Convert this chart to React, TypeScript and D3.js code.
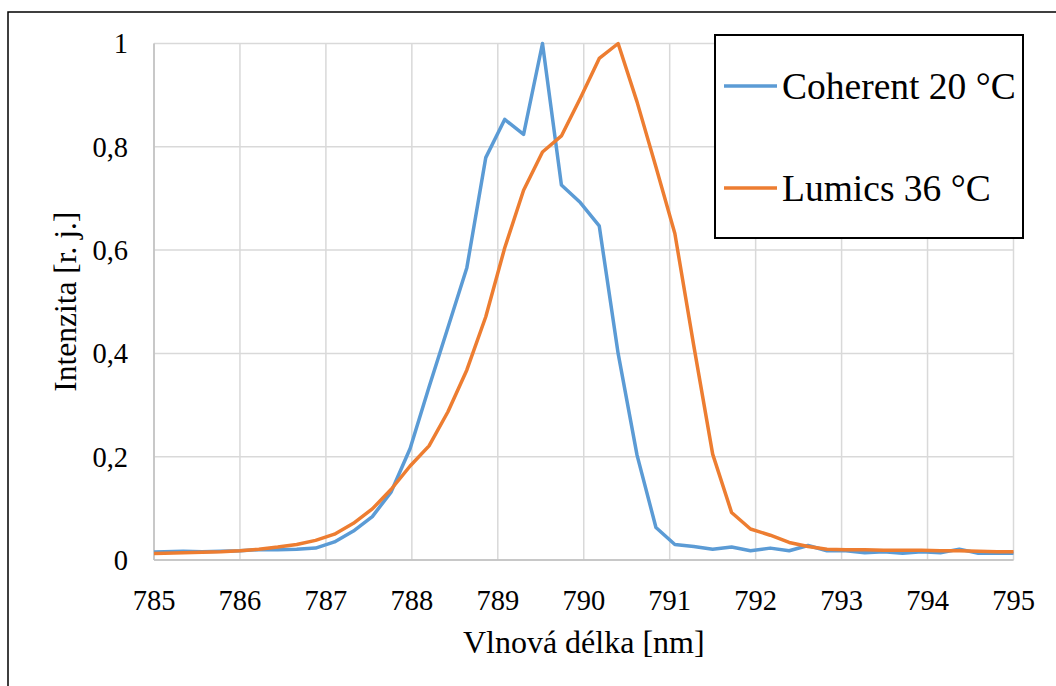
import React from "react";
import * as d3 from "d3";

// Emission spectra sampled on a shared wavelength grid [nm]
const wavelength = [
  784.89, 785.12, 785.34, 785.56, 785.78, 786.0, 786.22, 786.44, 786.66, 786.88,
  787.1, 787.32, 787.54, 787.76, 787.98, 788.2, 788.42, 788.64, 788.86, 789.08,
  789.3, 789.52, 789.74, 789.96, 790.18, 790.4, 790.62, 790.84, 791.06, 791.28,
  791.5, 791.72, 791.94, 792.17, 792.39, 792.61, 792.83, 793.05, 793.27, 793.49,
  793.71, 793.93, 794.15, 794.37, 794.59, 794.81, 795.03,
];

const coherent20 = [
  0.015, 0.016, 0.017, 0.016, 0.017, 0.018, 0.02, 0.02, 0.021, 0.023,
  0.035, 0.056, 0.084, 0.132, 0.216, 0.335, 0.45, 0.566, 0.779, 0.853,
  0.824, 1.0, 0.726, 0.692, 0.647, 0.4, 0.203, 0.063, 0.03, 0.026,
  0.021, 0.025, 0.018, 0.023, 0.018, 0.028, 0.018, 0.018, 0.014, 0.016,
  0.013, 0.016, 0.014, 0.021, 0.013, 0.013, 0.013,
];

const lumics36 = [
  0.012, 0.013, 0.014, 0.015, 0.016, 0.018, 0.021, 0.025, 0.03, 0.038,
  0.05, 0.071, 0.099, 0.137, 0.182, 0.221, 0.287, 0.368, 0.471, 0.604,
  0.716, 0.79, 0.821, 0.894, 0.971, 1.0, 0.887, 0.761, 0.632, 0.415,
  0.205, 0.092, 0.06, 0.048, 0.034, 0.026, 0.021, 0.02, 0.02, 0.019,
  0.019, 0.019, 0.018, 0.018, 0.017, 0.016, 0.016,
];

const xTicks = [785, 786, 787, 788, 789, 790, 791, 792, 793, 794, 795];
const yTicks = [0, 0.2, 0.4, 0.6, 0.8, 1];
const yTickLabels = ["0", "0,2", "0,4", "0,6", "0,8", "1"];

const seriesNames = ["Coherent 20 °C", "Lumics 36 °C"];
const seriesColors = ["#5B9BD5", "#ED7D31"];

const W = 1056;
const H = 686;
const plot = { left: 154, right: 1013.5, top: 43.5, bottom: 560 };
const serifStyle: React.CSSProperties = { fontFamily: "Liberation Serif" };

export default function App() {
  const x = d3.scaleLinear().domain([785, 795]).range([plot.left, plot.right]);
  const y = d3.scaleLinear().domain([0, 1]).range([plot.bottom, plot.top]);

  const series = [coherent20, lumics36];
  const line = d3
    .line<number>()
    .x((_, i) => x(wavelength[i]))
    .y((d) => y(d));

  return (
    <svg
      width={W}
      height={H}
      style={{ position: "absolute", left: 0, top: 0, background: "#fff" }}
    >
      <rect x={0} y={0} width={W} height={H} fill="#fff" />
      {/* outer chart frame */}
      <rect x={8} y={12} width={1200} height={800} fill="none" stroke="#000" strokeWidth={1.5} />

      <defs>
        <clipPath id="plotClip">
          <rect x={plot.left} y={plot.top - 4} width={plot.right - plot.left} height={plot.bottom - plot.top + 8} />
        </clipPath>
      </defs>

      {/* gridlines */}
      {xTicks.map((t) => (
        <line key={"gx" + t} x1={x(t)} x2={x(t)} y1={plot.top} y2={plot.bottom} stroke="#d9d9d9" strokeWidth={1.5} />
      ))}
      {yTicks.map((t) => (
        <line key={"gy" + t} x1={plot.left} x2={plot.right} y1={y(t)} y2={y(t)} stroke="#d9d9d9" strokeWidth={1.5} />
      ))}
      <line x1={plot.left} x2={plot.right} y1={plot.bottom} y2={plot.bottom} stroke="#bfbfbf" strokeWidth={1.5} />
      <line x1={plot.left} x2={plot.left} y1={plot.top} y2={plot.bottom} stroke="#bfbfbf" strokeWidth={1.5} />

      {/* spectra */}
      <g clipPath="url(#plotClip)">
        {series.map((s, i) => (
          <path
            key={seriesNames[i]}
            d={line(s) ?? ""}
            fill="none"
            stroke={seriesColors[i]}
            strokeWidth={3.5}
            strokeLinejoin="round"
          />
        ))}
      </g>

      <g style={serifStyle} fill="#000">
        {/* axis tick labels */}
        {xTicks.map((t) => (
          <text key={"tx" + t} x={x(t)} y={610} textAnchor="middle" fontSize={28.5}>
            {t}
          </text>
        ))}
        {yTicks.map((t, i) => (
          <text key={"ty" + t} x={128} y={y(t)} dy="0.35em" textAnchor="end" fontSize={28.5}>
            {yTickLabels[i]}
          </text>
        ))}

        {/* axis titles */}
        <text x={(plot.left + plot.right) / 2} y={653} textAnchor="middle" fontSize={32}>
          Vlnová délka [nm]
        </text>
        <text
          transform={`translate(76, ${(plot.top + plot.bottom) / 2}) rotate(-90)`}
          textAnchor="middle"
          fontSize={31.5}
        >
          Intenzita [r. j.]
        </text>
      </g>

      {/* legend */}
      <rect x={715} y={35} width={308} height={203} fill="#fff" stroke="#000" strokeWidth={2} />
      {seriesNames.map((name, i) => (
        <g key={"lg" + name} transform={`translate(0, ${86 + i * 102})`}>
          <line x1={724} x2={777} y1={0} y2={0} stroke={seriesColors[i]} strokeWidth={3.5} />
          <text x={782} y={0} dy="0.35em" fontSize={37.5} fill="#000" style={serifStyle}>
            {name}
          </text>
        </g>
      ))}
    </svg>
  );
}
